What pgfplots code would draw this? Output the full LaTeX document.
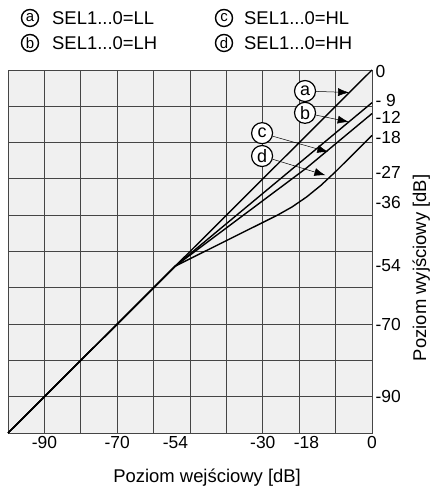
\documentclass[border=0pt]{standalone}
\usepackage{fontspec}
\setmainfont{Liberation Sans}
\usepackage{pgfplots}
\pgfplotsset{compat=1.18}
\usetikzlibrary{arrows.meta}
\definecolor{gridc}{HTML}{454545}
\begin{document}
\begin{tikzpicture}[x=1bp,y=1bp,
  lc/.style={circle, draw=black, line width=1.4pt, fill=white, inner sep=0pt, minimum size=17bp, font=\fontsize{15}{15}\selectfont},
  pc/.style={circle, draw=black, line width=1.2pt, fill=white, inner sep=0pt, minimum size=21bp, font=\fontsize{18}{18}\selectfont},
  ar/.style={-{Latex[length=11bp,width=8bp]}, line width=0.5pt}]
\useasboundingbox (-8,-54) rectangle (423,433);
\begin{axis}[
  at={(0,0)}, anchor=south west,
  scale only axis, width=364bp, height=363bp,
  xmin=-100, xmax=0, ymin=-100, ymax=0,
  xtick={-90,-70,-54,-30,-18,0},
  xticklabels={-90,-70,-54,-30,-18,0},
  ytick={-0.5,-8.4,-13.1,-18.6,-28.2,-36.4,-54,-70,-90},
  yticklabels={0,- 9,-12,-18,-27,-36,-54,-70,-90},
  yticklabel pos=right,
  minor xtick={-100,-90,...,0},
  minor ytick={-100,-90,...,0},
  xminorgrids, yminorgrids,
  minor grid style={gridc, line width=0.9pt},
  major tick length=0pt, minor tick length=0pt,
  axis line style={gridc, line width=0.9pt},
  axis background/.style={fill=gray!12},
  tick label style={font=\fontsize{17.5}{20}\selectfont},
  label style={font=\fontsize{18.5}{22}\selectfont},
  xlabel={Poziom wejściowy [dB]},
  ylabel={Poziom wyjściowy [dB]},
  xlabel style={at={(axis description cs:0.547,-0.124)}, anchor=center},
  ylabel style={at={(axis description cs:1.135,0.455)}, anchor=center},
  clip=false,
]
\addplot[black, line width=1.4pt, line join=round] coordinates {(-100,-100) (0,0)};
\addplot[black, line width=1.4pt, line join=round] coordinates {(-100,-100) (-54,-54) (0,-9)};
\addplot[black, line width=1.4pt, line join=round] coordinates {(-100,-100) (-54,-54) (-18,-27) (0,-12)};
\addplot[black, line width=1.4pt, line join=round] coordinates {(-100,-100) (-54,-54) (-26,-40) (-22,-37.75) (-18,-35) (-14,-31.75) (-10,-28) (0,-18)};
\node[pc] (A) at (axis cs:-18.4,-5.8) {a};
\node[pc] (B) at (axis cs:-18.4,-11.8) {b};
\node[pc] (C) at (axis cs:-30.2,-17.4) {c};
\node[pc] (D) at (axis cs:-30.2,-23.7) {d};
\draw[ar] (A) -- (axis cs:-6.3,-6.2);
\draw[ar] (B) -- (axis cs:-6.4,-14.3);
\draw[ar] (C) -- (axis cs:-12.0,-22.6);
\draw[ar] (D) -- (axis cs:-12.8,-29.0);
\end{axis}
\node[lc] at (22,415) {a};
\node[anchor=west, inner sep=0pt, font=\fontsize{18.5}{22}\selectfont] at (44,415) {SEL1...0=LL};
\node[lc] at (22,390) {b};
\node[anchor=west, inner sep=0pt, font=\fontsize{18.5}{22}\selectfont] at (44,390) {SEL1...0=LH};
\node[lc] at (216,415) {c};
\node[anchor=west, inner sep=0pt, font=\fontsize{18.5}{22}\selectfont] at (236,415) {SEL1...0=HL};
\node[lc] at (216,390) {d};
\node[anchor=west, inner sep=0pt, font=\fontsize{18.5}{22}\selectfont] at (236,390) {SEL1...0=HH};
\end{tikzpicture}
\end{document}
